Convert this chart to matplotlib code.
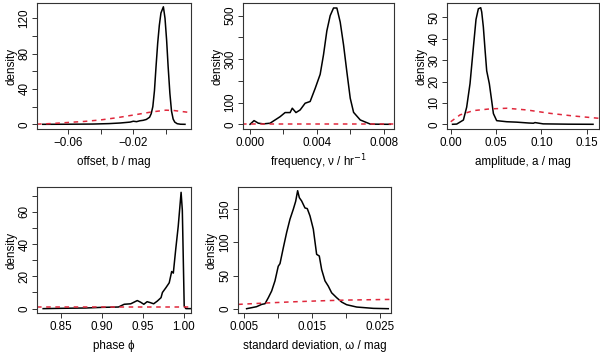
import numpy as np
import matplotlib
matplotlib.use('Agg')
from matplotlib import pyplot as plt

plt.rcParams['font.family'] = ['Liberation Sans', 'DejaVu Sans']

# offset b
offset_x = [-0.0758, -0.06, -0.045, -0.035, -0.028, -0.022, -0.020, -0.018, -0.016, -0.014,
            -0.012, -0.010, -0.009, -0.008, -0.007, -0.006, -0.005, -0.004, -0.003, -0.0015,
            -0.0005, 0.0005, 0.0014, 0.0025, 0.0035, 0.0045, 0.0055, 0.007, 0.009, 0.0118]
offset_post = [0, 0.1, 0.3, 0.8, 1.5, 2.5, 3.5, 3.0, 4.0, 4.5,
               5.5, 8, 12, 20, 38, 66, 92, 112, 126, 133,
               120, 95, 66, 35, 15, 6, 2.5, 0.7, 0.1, 0]
offset_px = [-0.0793, -0.07, -0.061, -0.05, -0.04, -0.03, -0.02, -0.0087, 0.0, 0.005, 0.0155]
offset_prior = [0.2, 0.9, 2.0, 3.3, 5.0, 7.5, 10.5, 14.0, 16.0, 15.6, 13.2]

# frequency nu
freq_x = [0.0, 0.00024, 0.0005, 0.0008, 0.0012, 0.0015, 0.0018, 0.0021, 0.0024, 0.00253,
          0.00275, 0.003, 0.0033, 0.0036, 0.0039, 0.0042, 0.0044, 0.0046, 0.0048, 0.005,
          0.0052, 0.0054, 0.0056, 0.0058, 0.006, 0.0062, 0.0066, 0.0072, 0.0078, 0.0084]
freq_post = [0, 17, 5, 2, 5, 20, 35, 54, 54, 74,
             54, 66, 97, 105, 165, 230, 320, 430, 500, 535,
             535, 470, 365, 240, 120, 55, 20, 1, 0.3, 0]
freq_px = [-0.0005, 0.002, 0.004, 0.006, 0.0087]
freq_prior = [1.5, 1.5, 1.5, 1.5, 1.5]

# amplitude a
amp_x = [0.002, 0.0066, 0.0140, 0.0176, 0.0213, 0.0250, 0.0279, 0.0305, 0.0331, 0.0342,
         0.0360, 0.0379, 0.0397, 0.0426, 0.0452, 0.0471, 0.0507, 0.0618, 0.0728, 0.0860,
         0.0912, 0.0930, 0.1020, 0.1300, 0.1570]
amp_post = [0, 0.1, 2, 8, 19, 36, 49, 54, 54.5, 52.5,
            45.5, 34.7, 25, 19, 11, 5, 1.7, 1.2, 1.0, 0.6,
            0.5, 0.8, 0.2, 0.05, 0]
amp_px = [0.0, 0.0103, 0.025, 0.0434, 0.062, 0.084, 0.11, 0.135, 0.1636]
amp_prior = [1.2, 4.4, 6.4, 7.2, 7.5, 6.7, 5.1, 3.9, 2.8]

# phase phi
phase_x = [0.828, 0.85, 0.88, 0.90, 0.920, 0.927, 0.935, 0.943, 0.947, 0.951,
           0.955, 0.959, 0.963, 0.9675, 0.972, 0.9737, 0.978, 0.982, 0.985, 0.987,
           0.990, 0.993, 0.9965, 0.998, 1.0003, 1.0023, 1.0085]
phase_post = [0, 0.2, 0.4, 0.8, 1.0, 2.7, 3.0, 5.0, 4.0, 2.7,
              4.3, 3.7, 3.0, 4.7, 6.8, 10, 13, 16, 23, 22,
              37, 51, 72, 61, 1.6, 0, 0]
phase_px = [0.8205, 0.9, 1.0086]
phase_prior = [1.0, 1.0, 1.0]

# standard deviation omega
sd_x = [0.00534, 0.0068, 0.00756, 0.00805, 0.00854, 0.00903, 0.00952, 0.0100, 0.01026, 0.01075,
        0.01124, 0.01173, 0.01222, 0.01257, 0.01286, 0.01311, 0.01345, 0.01394, 0.01428, 0.01468,
        0.01517, 0.01566, 0.01605, 0.0164, 0.01689, 0.01738, 0.01787, 0.01861, 0.01935, 0.02008,
        0.02156, 0.02401, 0.02622]
sd_post = [0, 3, 6.5, 7.5, 16.6, 26.7, 42, 64, 68, 92,
           115, 135, 150, 162, 178, 167.5, 162.5, 152, 151, 140,
           120, 82, 79.5, 59, 42, 34, 24, 16.6, 10, 6,
           2.5, 0.5, 0]
sd_px = [0.0041, 0.008, 0.012, 0.016, 0.02, 0.0266]
sd_prior = [6.5, 8.5, 10.3, 11.8, 13.0, 14.0]

RED = '#e0283c'

panels = [
    dict(box=(37, 3, 191, 129), x=offset_x, y=offset_post, px=offset_px, py=offset_prior,
         xlim=(-0.0793, 0.0155), ylim=(-5.3, 137.3),
         xt=[-0.06, -0.04, -0.02, 0.0], xl=['\u22120.06', '', '\u22120.02', ''],
         yt=[0, 20, 40, 60, 80, 100, 120], yl=['0', '', '40', '', '80', '', '120'],
         xlabel='offset, b / mag'),
    dict(box=(243, 3, 394, 129), x=freq_x, y=freq_post, px=freq_px, py=freq_prior,
         xlim=(-0.00042, 0.00862), ylim=(-21.6, 558),
         xt=[0.0, 0.002, 0.004, 0.006, 0.008], xl=['0.000', '', '0.004', '', '0.008'],
         yt=[0, 100, 200, 300, 400, 500], yl=['0', '100', '', '300', '', '500'],
         xlabel='frequency, \u03bd / hr$^{-1}$'),
    dict(box=(447, 3, 599, 129), x=amp_x, y=amp_post, px=amp_px, py=amp_prior,
         xlim=(-0.0041, 0.1636), ylim=(-2.2, 56.7),
         xt=[0.0, 0.05, 0.10, 0.15], xl=['0.00', '0.05', '0.10', '0.15'],
         yt=[0, 10, 20, 30, 40, 50], yl=['0', '10', '20', '30', '40', '50'],
         xlabel='amplitude, a / mag'),
    dict(box=(37, 187, 191, 313), x=phase_x, y=phase_post, px=phase_px, py=phase_prior,
         xlim=(0.8205, 1.0086), ylim=(-2.7, 75.3),
         xt=[0.85, 0.90, 0.95, 1.00], xl=['0.85', '0.90', '0.95', '1.00'],
         yt=[0, 10, 20, 30, 40, 50, 60, 70], yl=['0', '', '20', '', '40', '', '60', ''],
         xlabel='phase \u03d5'),
    dict(box=(238, 187, 391, 313), x=sd_x, y=sd_post, px=sd_px, py=sd_prior,
         xlim=(0.00407, 0.02662), ylim=(-6.5, 183.6),
         xt=[0.005, 0.010, 0.015, 0.020, 0.025], xl=['0.005', '', '0.015', '', '0.025'],
         yt=[0, 50, 100, 150], yl=['0', '50', '100', '150'],
         xlabel='standard deviation, \u03c9 / mag'),
]

W, H = 600, 353
fig = plt.figure(figsize=(6, 3.53), dpi=100)

for p in panels:
    l, t, r, b = p['box']
    ax = fig.add_axes([l / W, (H - b) / H, (r - l) / W, (b - t) / H])
    ax.plot(p['x'], p['y'], color='black', lw=1.1)
    ax.plot(p['px'], p['py'], color=RED, lw=1.1, dashes=(3, 3))
    ax.set_xlim(*p['xlim'])
    ax.set_ylim(*p['ylim'])
    ax.set_xticks(p['xt'])
    ax.set_xticklabels(p['xl'], fontsize=8.4)
    ax.set_yticks(p['yt'])
    ax.set_yticklabels(p['yl'], fontsize=8.4, rotation=90, va='center')
    ax.tick_params(direction='out', length=3.8, width=0.7, color='#333333')
    ax.tick_params(axis='x', pad=2.0)
    ax.tick_params(axis='y', pad=1.0)
    for s in ax.spines.values():
        s.set_linewidth(0.8)
        s.set_color('#333333')
    ax.set_xlabel(p['xlabel'], fontsize=8.4)
    ax.set_ylabel('density', fontsize=8.4)
    ax.xaxis.label.set_va('center')
    ax.yaxis.label.set_va('center')
    ax.xaxis.set_label_coords(0.5, -33.5 / (b - t))
    ax.yaxis.set_label_coords(-26 / (r - l), 0.5)

fig.savefig('out.png', dpi=100, facecolor='white')
